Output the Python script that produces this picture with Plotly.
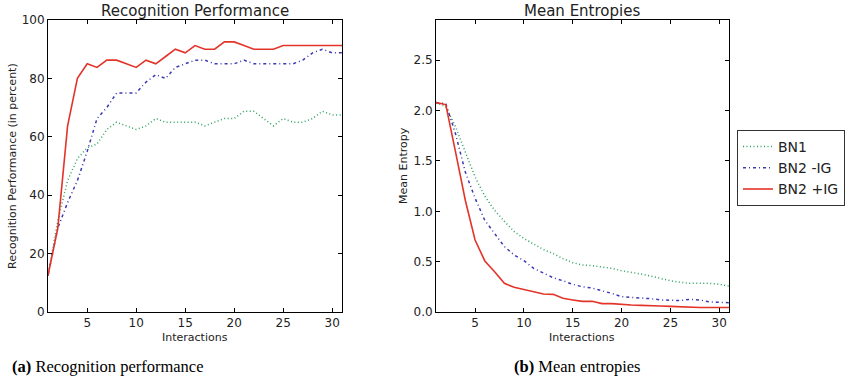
import plotly.graph_objects as go

interactions = list(range(1, 32))

# Recognition performance (percent)
perf_bn1 = [12.5, 31.25, 45, 52.5, 56.25, 57.5, 62.5, 65, 63.75, 62.5, 63.75, 66.25, 65, 65, 65, 65,
            63.75, 65, 66.25, 66.25, 68.75, 68.75, 66.25, 63.75, 66.25, 65, 65, 66.25, 68.75, 67.5, 67.5]
perf_bn2_noig = [12.5, 28.75, 37.5, 45, 55, 66.25, 70, 75, 75, 75, 78.75, 81.25, 80, 83.75, 85, 86.25,
                 86.25, 85, 85, 85, 86.25, 85, 85, 85, 85, 85, 86.25, 88.75, 90, 88.75, 88.75]
perf_bn2_ig = [12.5, 28.75, 63.75, 80, 85, 83.75, 86.25, 86.25, 85, 83.75, 86.25, 85, 87.5, 90, 88.75, 91.25,
               90, 90, 92.5, 92.5, 91.25, 90, 90, 90, 91.25, 91.25, 91.25, 91.25, 91.25, 91.25, 91.25]

# Mean entropies
ent_bn1 = [2.08, 2.04, 1.84, 1.59, 1.34, 1.15, 1.01, 0.90, 0.80, 0.73, 0.675, 0.62, 0.58, 0.53, 0.49, 0.467,
           0.46, 0.45, 0.434, 0.41, 0.397, 0.377, 0.357, 0.334, 0.31, 0.295, 0.285, 0.285, 0.285, 0.275, 0.258]
ent_bn2_noig = [2.08, 2.07, 1.77, 1.39, 1.13, 0.91, 0.78, 0.65, 0.566, 0.51, 0.434, 0.39, 0.34, 0.31, 0.275, 0.25,
                0.238, 0.21, 0.185, 0.152, 0.146, 0.136, 0.132, 0.12, 0.113, 0.113, 0.126, 0.12, 0.10, 0.093, 0.093]
ent_bn2_ig = [2.08, 2.06, 1.59, 1.11, 0.715, 0.507, 0.40, 0.285, 0.245, 0.222, 0.195, 0.179, 0.175, 0.136, 0.12, 0.106,
              0.106, 0.083, 0.083, 0.08, 0.07, 0.066, 0.06, 0.06, 0.056, 0.05, 0.046, 0.045, 0.045, 0.045, 0.045]

names = ["BN1", "BN2 -IG", "BN2 +IG"]
colors = ["#2ca25f", "#3a3ab4", "#e3342a"]
dashes = ["1px,2.5px", "3px,3px,1px,3px", "solid"]

fig = go.Figure()
for i, ys in enumerate([perf_bn1, perf_bn2_noig, perf_bn2_ig]):
    fig.add_trace(go.Scatter(x=interactions, y=ys, mode="lines", name=names[i], showlegend=False,
                             line=dict(color=colors[i], width=1.6 if i == 2 else 1.5, dash=dashes[i]),
                             xaxis="x", yaxis="y"))
for i, ys in enumerate([ent_bn1, ent_bn2_noig, ent_bn2_ig]):
    fig.add_trace(go.Scatter(x=interactions, y=ys, mode="lines", name=names[i], showlegend=True,
                             line=dict(color=colors[i], width=1.6 if i == 2 else 1.5, dash=dashes[i]),
                             xaxis="x2", yaxis="y2"))

W, H = 858, 390
ax_common = dict(showline=True, linecolor="black", linewidth=1, mirror="allticks", ticks="inside",
                 ticklen=4, tickcolor="black", showgrid=False, zeroline=False,
                 tickfont=dict(family="DejaVu Sans", size=12, color="#222"))
fig.update_layout(
    width=W, height=H, margin=dict(l=0, r=0, t=0, b=0, autoexpand=False),
    paper_bgcolor="white", plot_bgcolor="white",
    xaxis=dict(domain=[48 / W, 342 / W], range=[1, 31], tick0=0, dtick=5, anchor="y", **ax_common),
    yaxis=dict(domain=[(H - 312) / H, (H - 20) / H], range=[0, 100], dtick=20, anchor="x", **ax_common),
    xaxis2=dict(domain=[436 / W, 729 / W], range=[1, 31], tick0=0, dtick=5, anchor="y2", **ax_common),
    yaxis2=dict(domain=[(H - 312) / H, (H - 20) / H], range=[0, 2.9], tick0=0, dtick=0.5,
                tickformat=".1f", anchor="x2", **ax_common),
    legend=dict(x=737 / W, y=(H - 130) / H, xanchor="left", yanchor="top",
                bgcolor="white", bordercolor="#333", borderwidth=1,
                font=dict(family="DejaVu Sans", size=14, color="#222"),
                tracegroupgap=0, itemwidth=30),
)

ann = []
def txt(x, y, s, size, family="DejaVu Sans", angle=0, color="#222", xanchor="center"):
    ann.append(dict(x=x / W, y=(H - y) / H, xref="paper", yref="paper", text=s, showarrow=False,
                    xanchor=xanchor, yanchor="middle", textangle=angle,
                    font=dict(family=family, size=size, color=color)))

txt(195, 11, "Recognition Performance", 15)
txt(582, 11, "Mean Entropies", 15)
txt(195, 337, "Interactions", 11)
txt(582, 337, "Interactions", 11)
txt(12, 166, "Recognition Performance (in percent)", 11, angle=-90)
txt(403, 166, "Mean Entropy", 11, angle=-90)
txt(10, 366, "<b>(a)</b> Recognition performance", 16.5, family="Liberation Serif", color="black", xanchor="left")
txt(512, 366, "<b>(b)</b> Mean entropies", 16.5, family="Liberation Serif", color="black", xanchor="left")
fig.update_layout(annotations=ann)

fig.write_html("out.html", config={"displayModeBar": False},
               post_script="document.body.style.margin='0';document.body.style.overflow='hidden';")
